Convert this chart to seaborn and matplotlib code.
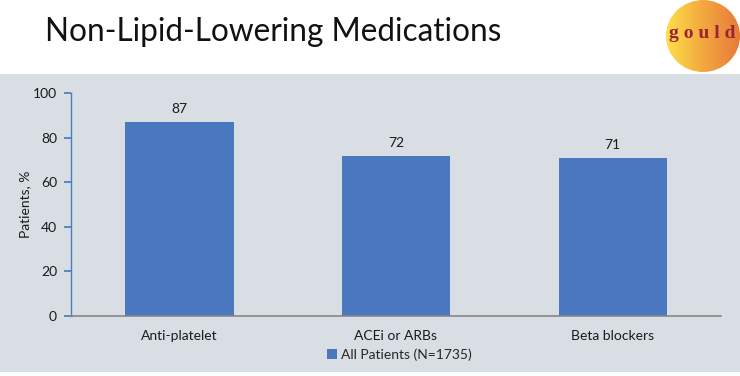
import numpy as np
import pandas as pd
import matplotlib
matplotlib.use("Agg")
import matplotlib.pyplot as plt
import seaborn as sns
from matplotlib.patches import Rectangle, Circle
from matplotlib.colors import LinearSegmentedColormap

categories = ["Anti-platelet", "ACEi or ARBs", "Beta blockers"]
values = [87, 72, 71]
series_name = "All Patients (N=1735)"
yticks = [0, 20, 40, 60, 80, 100]

sns.set_theme(style="white")
plt.rcParams['font.family'] = ['Lato', 'DejaVu Sans']

W, H = 740, 376
fig = plt.figure(figsize=(W/100, H/100), dpi=100)
fig.patch.set_facecolor("white")

def fx(x): return x / W
def fy(y): return 1 - y / H

# gray panel
bg = Rectangle((0, fy(372)), 1, (372-74)/H, transform=fig.transFigure,
               facecolor="#d9dee5", edgecolor="none", zorder=-10)
fig.patches.append(bg)

# title
fig.text(fx(45), fy(41), "Non-Lipid-Lowering Medications", fontsize=22.7, fontweight="normal",
         color="#111111", ha="left", va="baseline")

# logo with gradient
lax = fig.add_axes([fx(666), fy(72), 74/W, 72/H])
lax.set_xlim(0, 1); lax.set_ylim(0, 1); lax.axis("off")
grad = np.linspace(0, 1, 256).reshape(1, -1)
cm = LinearSegmentedColormap.from_list("g", ["#fde04a", "#f3a83f", "#e77a3a"])
im = lax.imshow(grad, extent=[0, 1, 0, 1], cmap=cm, aspect="auto")
circ = Circle((0.5, 0.5), 0.5, transform=lax.transAxes, facecolor="none", edgecolor="none")
lax.add_patch(circ)
im.set_clip_path(circ)
fig.text(fx(702), fy(33), "g o u l d", fontsize=14, fontweight="bold", family="Liberation Serif",
         color="#9b2335", ha="center", va="center")

# main chart
df = pd.DataFrame({"cat": categories, "val": values, "series": series_name})
ax = fig.add_axes([fx(71), fy(316), (721-71)/W, (316-93.3)/H])
ax.set_facecolor("none")
sns.barplot(data=df, x="cat", y="val", hue="series", palette=["#4a78be"], width=0.5,
            ax=ax, saturation=1, legend=True, edgecolor="none", linewidth=0)
ax.set_ylim(0, 100)
ax.set_xlim(-0.5, 2.5)
ax.set_yticks(yticks)
ax.set_xlabel("")
ax.set_ylabel("Patients, %", fontsize=10, color="#1a1a1a", labelpad=1)
for s in ["top", "right"]:
    ax.spines[s].set_visible(False)
ax.spines["left"].set_color("#4a7ebb")
ax.spines["bottom"].set_color("#868686")
ax.spines["left"].set_linewidth(1.0)
ax.spines["bottom"].set_linewidth(1.2)
ax.tick_params(axis="y", direction="out", length=5, color="#4a7ebb", labelsize=10,
               labelcolor="#1a1a1a", pad=5, left=True)
ax.tick_params(axis="x", length=0, labelsize=10, labelcolor="#1a1a1a", pad=10)
for c in ax.containers:
    ax.bar_label(c, labels=[str(v) for v in values], padding=5, fontsize=10, color="#1a1a1a")
leg = ax.legend(loc="upper center", bbox_to_anchor=(0.505, -0.09), frameon=False,
                fontsize=10, handlelength=0.7, handleheight=0.7, handletextpad=0.3)
plt.savefig("out.png", dpi=100)
